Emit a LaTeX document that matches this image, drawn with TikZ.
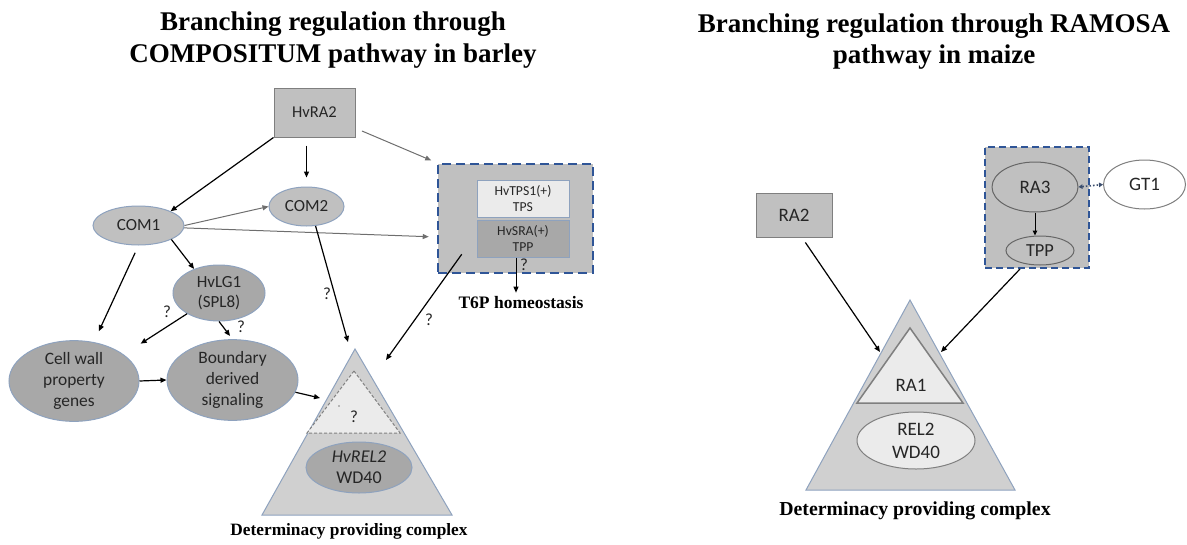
\documentclass[tikz,border=0pt]{standalone}
\usepackage{fontspec}
\setmainfont{Liberation Serif}
\newfontfamily\calib{Carlito}
\usetikzlibrary{shapes.geometric,arrows.meta}
\definecolor{gfill}{HTML}{C0C0C0}
\definecolor{gdark}{HTML}{A8A8A8}
\definecolor{bgray}{HTML}{8EA2BE}
\definecolor{tfill}{HTML}{D0D0D0}
\definecolor{tlight}{HTML}{EBEBEB}
\definecolor{dblue}{HTML}{2F5597}
\definecolor{mgray}{HTML}{7F7F7F}
\definecolor{agray}{HTML}{6E6E6E}
\definecolor{txt}{HTML}{262626}
\definecolor{dotc}{HTML}{3B4E6E}
\newcommand\setfs[2]{\fontsize{#1}{#2}\selectfont}
\begin{document}
\begin{tikzpicture}[x=1pt,y=-1pt,
  arr/.style={draw=black, line width=1.2pt, -{Triangle[length=6pt,width=5pt]}},
  garr/.style={draw=agray, line width=1pt, -{Triangle[length=6pt,width=5pt]}},
  dotarr/.style={draw=dotc, line width=1.6pt, dotted, {Triangle[length=4pt,width=4.5pt]}-{Triangle[length=4pt,width=4.5pt]}},
  title/.style={font=\bfseries\setfs{27}{32}, inner sep=0pt, anchor=base},
  caption/.style={font=\bfseries\setfs{17.3}{20}, inner sep=0pt},
  lbl/.style={font=\calib\setfs{17}{20}, text=txt, align=center, inner sep=0pt},
  rlbl/.style={font=\calib\setfs{19}{23}, text=txt, align=center, inner sep=0pt},
  ell/.style={ellipse, draw=bgray, line width=1pt, fill=gfill, inner sep=0pt, lbl},
  dell/.style={ell, fill=gdark},
  rbox/.style={rectangle, draw=mgray, fill=gfill, line width=1pt, inner sep=0pt, lbl},
  small/.style={rectangle, draw=bgray, line width=1pt, inner sep=0pt, minimum width=92pt, minimum height=37pt,
     font=\calib\setfs{13.7}{16}, text=txt, align=center},
  qm/.style={font=\calib\setfs{17}{20}, text=txt, inner sep=0pt},
  tri/.style={fill=tfill, draw=bgray, line width=1pt, line join=miter},
]
\useasboundingbox (0,0) rectangle (1187,544);

% ---------- titles ----------
\node[title] (tL1) at (333,30) {Branching regulation through};
\node[title] (tL2) at (333,62) {COMPOSITUM pathway in barley};
\node[title] (tR1) at (934,32) {Branching regulation through RAMOSA};
\node[title] (tR2) at (934,63) {pathway in maize};

% ---------- left: determinacy complex ----------
\coordinate (LA) at (355,349);
\coordinate (LL) at (262,515);
\coordinate (LR) at (452,515);
\draw[tri] (LA) -- (LL) -- (LR) -- cycle;
\draw[fill=tlight, draw=gray, line width=1pt, dashed, dash pattern=on 3pt off 2pt] (354,371) -- (307,433) -- (400,433) -- cycle;
\fill[gray] (339,406) circle (0.9pt);
\node[qm] (q6) at (354,417) {?};
\node[dell, minimum width=106pt, minimum height=51pt, font=\calib\setfs{18}{21}] (HvREL2) at (359,467.5) {\itshape HvREL2\\WD40};
\node[caption] (LDet) at (349,531) {Determinacy providing complex};

% ---------- left: nodes ----------
\node[rbox, minimum width=81pt, minimum height=49pt, font=\calib\setfs{16.5}{20}] (HvRA2) at (314.5,112.5) {HvRA2};
\node[ell, minimum width=75pt, minimum height=39pt] (COM2) at (306.5,206.5) {COM2};
\node[ell, minimum width=91pt, minimum height=39pt] (COM1) at (138.5,225.5) {COM1};
\node[rectangle, fill=gfill, draw=dblue, line width=2.5pt, dash pattern=on 9pt off 5pt,
      minimum width=155pt, minimum height=109pt, inner sep=0pt] (LBox) at (515.5,218.5) {};
\node[small, fill=tlight] (HvTPS1) at (523,198.5) {HvTPS1(+)\\TPS};
\node[small, fill=gdark] (HvSRA) at (523,238.5) {HvSRA(+)\\TPP};
\node[caption, font=\bfseries\setfs{17.5}{20}] (T6P) at (521,303) {T6P homeostasis};
\node[dell, minimum width=92pt, minimum height=56pt] (HvLG1) at (219,293) {HvLG1\\(SPL8)};
\node[dell, minimum width=130pt, minimum height=72pt, font=\calib\setfs{17.4}{21}] (Cellwall) at (74,381) {Cell wall\\property\\genes};
\node[dell, minimum width=131pt, minimum height=72pt, font=\calib\setfs{17.4}{21}] (Boundary) at (232.5,380) {Boundary\\derived\\signaling};

\node[qm] (q1) at (327,294) {?};
\node[qm] (q2) at (429,320) {?};
\node[qm] (q3) at (524,265) {?};
\node[qm] (q4) at (167,312) {?};
\node[qm] (q5) at (241,327) {?};

\coordinate (e11) at (320,398);
\coordinate (e12) at (348,342);
\coordinate (e13) at (386,360);

% ---------- left: connectors ----------
\draw[arr] (HvRA2.south west) -- (COM1.24);
\draw[arr, shorten <=8pt, shorten >=9pt] (HvRA2.south -| COM2.north) -- (COM2.north);
\draw[garr, shorten <=7pt, shorten >=6pt] (HvRA2.-21) -- (LBox.north west);
\draw[garr] (COM1.east) -- (COM2.west);
\draw[garr, shorten >=8pt] (COM1.-3) -- ([yshift=-18.5pt]LBox.west);
\draw[arr] (COM1.-23) -- (HvLG1.136);
\draw[arr, shorten <=8pt, shorten >=12pt] (COM1.south) -- (Cellwall.63);
\draw[arr, shorten >=20pt] (HvLG1.213) -- (Cellwall.28);
\draw[arr, shorten >=4pt] (HvLG1.south) -- (Boundary.north);
\draw[arr] (Cellwall.east) -- (Boundary.west);
\draw[arr] (Boundary.-11) -- (e11);
\draw[arr] (COM2.-65) -- (e12);
\draw[arr] ([xshift=25pt,yshift=20pt]LBox.south west) -- (e13);
\draw[arr, line width=1pt, shorten >=4pt] ([xshift=-7pt]HvSRA.south) -- ([xshift=-7pt]HvSRA.south |- T6P.north);

% ---------- right: determinacy complex ----------
\coordinate (RA) at (910,300);
\coordinate (RL) at (806,490);
\coordinate (RR) at (1015,490);
\draw[tri] (RA) -- (RL) -- (RR) -- cycle;
\draw[fill=tlight, draw=mgray, line width=1.5pt, line join=miter] (910,328) -- (857,403) -- (963,403) -- cycle;
\node[rlbl] (RA1) at (911,385) {RA1};
\node[ellipse, draw=mgray, fill=tlight, line width=1pt, inner sep=0pt, rlbl, minimum width=118pt, minimum height=57pt] (REL2) at (916,440.5) {REL2\\WD40};
\node[caption, font=\bfseries\setfs{19.8}{23}] (RDet) at (915,511) {Determinacy providing complex};

% ---------- right: nodes ----------
\node[rbox, rlbl, minimum width=76pt, minimum height=44pt] (RA2) at (794,215) {RA2};
\node[rectangle, fill=gfill, draw=dblue, line width=2pt, dash pattern=on 7pt off 4pt,
      minimum width=104pt, minimum height=121pt, inner sep=0pt] (RBox) at (1037,207.5) {};
\node[ellipse, draw=mgray!80!black, fill=gfill, line width=1pt, inner sep=0pt, rlbl, minimum width=86pt, minimum height=50pt] (RA3) at (1035,187) {RA3};
\node[ellipse, draw=mgray!80!black, fill=gfill, line width=1pt, inner sep=0pt, rlbl, font=\calib\setfs{18.4}{22}, minimum width=68pt, minimum height=29pt] (TPP) at (1040,250.5) {TPP};
\node[ellipse, draw=mgray, fill=white, line width=1pt, inner sep=0pt, rlbl, minimum width=82pt, minimum height=49pt] (GT1) at (1144.5,184.5) {GT1};

\coordinate (eR1) at (880,352);
\coordinate (eR2) at (941,352);

% ---------- right: connectors ----------
\draw[arr, shorten <=6pt] ([xshift=8pt]RA2.south) -- (eR1);
\draw[arr] ([xshift=-17pt]RBox.south) -- (eR2);
\draw[arr, line width=1pt, -{Triangle[length=5pt,width=4.5pt]}] (RA3.south) -- (RA3.south |- TPP.north);
\draw[dotarr] (RA3.east) -- (GT1.west);
\end{tikzpicture}
\end{document}
